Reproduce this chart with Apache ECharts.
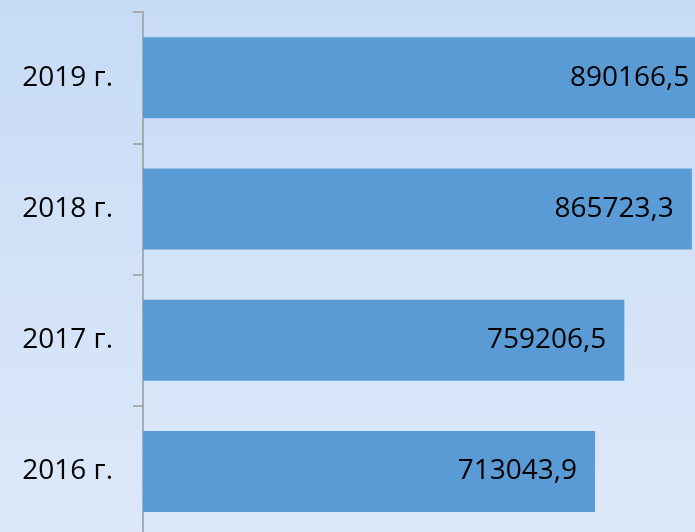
<!DOCTYPE html>
<html>
<head>
<meta charset="utf-8">
<script src="https://cdn.jsdelivr.net/npm/echarts@6/dist/echarts.min.js"></script>
<style>
  html, body { margin: 0; padding: 0; overflow: hidden; }
  /* the lowest category band runs a little past the bottom of the picture */
  #chart { width: 695px; height: 540px; }
</style>
</head>
<body>
<div id="chart"></div>
<script>
// years, bottom to top
const years = ["2016 г.", "2017 г.", "2018 г.", "2019 г."]
const amounts = [713043.9, 759206.5, 865723.3, 890166.5]

const fmt = v => String(v).replace(".", ",")

const chart = echarts.init(document.getElementById("chart"))
chart.setOption({
    backgroundColor: new echarts.graphic.LinearGradient(0, 0, 0, 1, [
        { offset: 0, color: "#c7dbf6" },
        { offset: 1, color: "#dde9f9" }
    ]),
    textStyle: { fontFamily: "Open Sans" },
    animation: false,
    grid: { left: 143, right: 0, top: 12, height: 525 },
    xAxis: {
        type: "value",
        min: 0,
        // the 2019 bar runs past the right edge of the picture
        max: 870700,
        show: false
    },
    yAxis: {
        type: "category",
        data: years,
        axisLine: { show: true, lineStyle: { color: "#9a9a9a", width: 1.5 } },
        axisTick: { show: true, length: 10, lineStyle: { color: "#9a9a9a", width: 1.5 } },
        axisLabel: { color: "#000", fontSize: 28, margin: 30, fontFamily: "Open Sans" },
        splitLine: { show: false }
    },
    series: [{
        type: "bar",
        data: amounts,
        barWidth: 81,
        clip: false,
        itemStyle: { color: "#5b9bd5" },
        label: {
            show: true,
            position: "insideRight",
            distance: 18,
            color: "#000",
            fontSize: 28,
            fontFamily: "Open Sans",
            formatter: p => fmt(p.value)
        }
    }]
})
</script>
</body>
</html>
